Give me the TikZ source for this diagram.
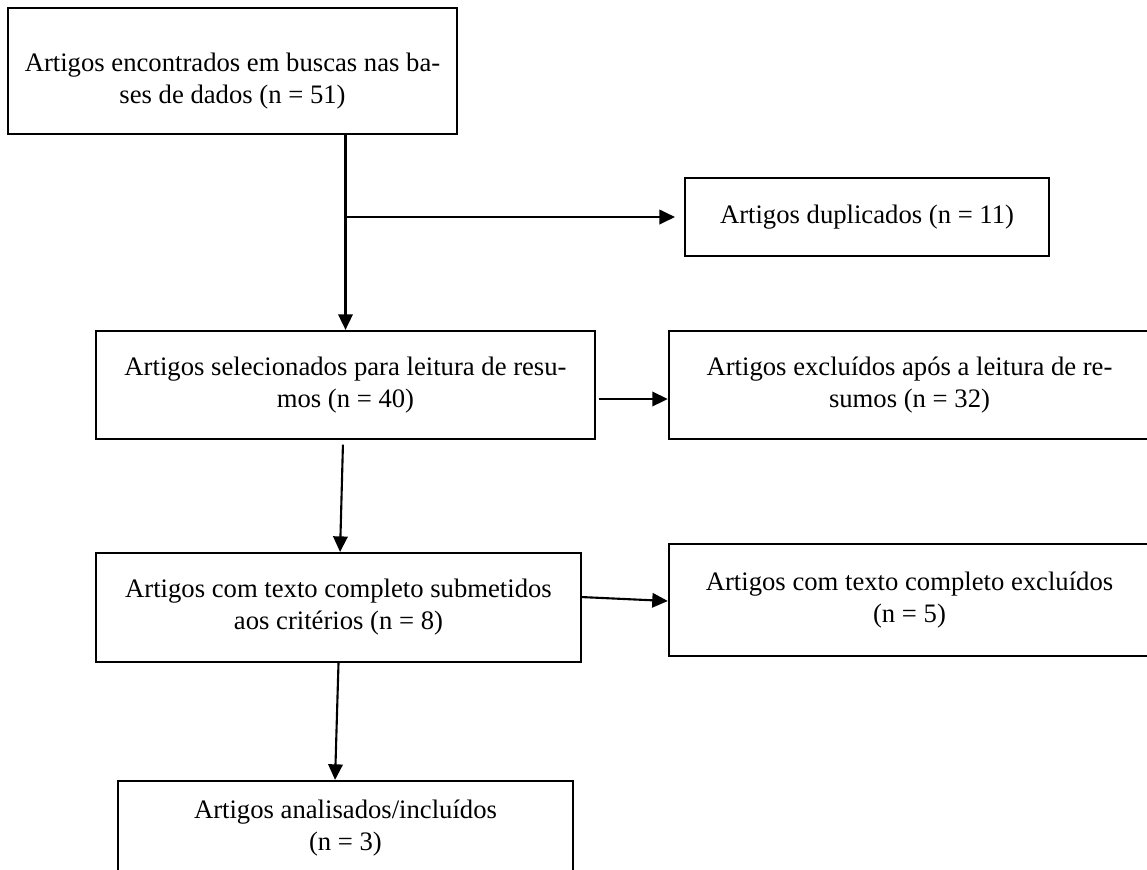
\documentclass[tikz,border=0pt]{standalone}
\usepackage{fontspec}
\setmainfont{Liberation Serif}
\usetikzlibrary{arrows.meta}

\begin{document}
\begin{tikzpicture}[x=0.45pt, y=-0.45pt,
    caixa/.style={rectangle, draw, line width=1pt, align=center, inner sep=2pt, font=\fontsize{12}{14.4}\selectfont},
    seta/.style={-{Triangle[length=7pt, width=6.5pt]}, line width=0.95pt}]
    \useasboundingbox (0,0) rectangle (1147,869);
    \clip (0,0) rectangle (1147,869);

    % Caixas
    \node[caixa, minimum width=202pt, minimum height=56.7pt] (busca) at (232.5,71) {\rule{0pt}{17pt}Artigos encontrados em buscas nas ba-\\ses de dados (n = 51)};
    \node[caixa, minimum width=163.8pt, minimum height=35.1pt] (dup) at (867,217) {Artigos duplicados (n = 11)};
    \node[caixa, minimum width=224.5pt, minimum height=48.6pt] (sel) at (345.5,385) {Artigos selecionados para leitura de resu-\\mos (n = 40)};
    \node[caixa, minimum width=216.5pt, minimum height=48.6pt] (exres) at (909.5,385) {Artigos excluídos após a leitura de re-\\sumos (n = 32)};
    \node[caixa, minimum width=218.2pt, minimum height=49pt] (txt) at (338.5,607.5) {Artigos com texto completo submetidos\\aos critérios (n = 8)};
    \node[caixa, minimum width=216.5pt, minimum height=50.4pt] (txtex) at (909.5,600) {Artigos com texto completo excluídos\\(n = 5)};
    \node[caixa, minimum width=204.7pt, minimum height=42.3pt] (incl) at (345.5,828) {Artigos analisados/incluídos\\(n = 3)};

    % Setas
    \draw[seta] (busca.south -| sel.north) -- (sel.north);
    \coordinate (ramo) at (sel.north |- dup.west);
    \draw[seta, shorten >=4pt] (ramo) -- (dup.west);
    \draw[seta, shorten <=1.3pt] ([yshift=-6.3pt]sel.east) -- ([yshift=-6.3pt]exres.west);
    \draw[seta, shorten <=2pt] ([xshift=-1.1pt]sel.south) -- ([xshift=0.7pt]txt.north);
    \draw[seta] ([yshift=4.7pt]txt.east) -- ([yshift=-0.45pt]txtex.west);
    \draw[seta] (txt.south) -- ([xshift=-4.7pt]incl.north);
\end{tikzpicture}
\end{document}
